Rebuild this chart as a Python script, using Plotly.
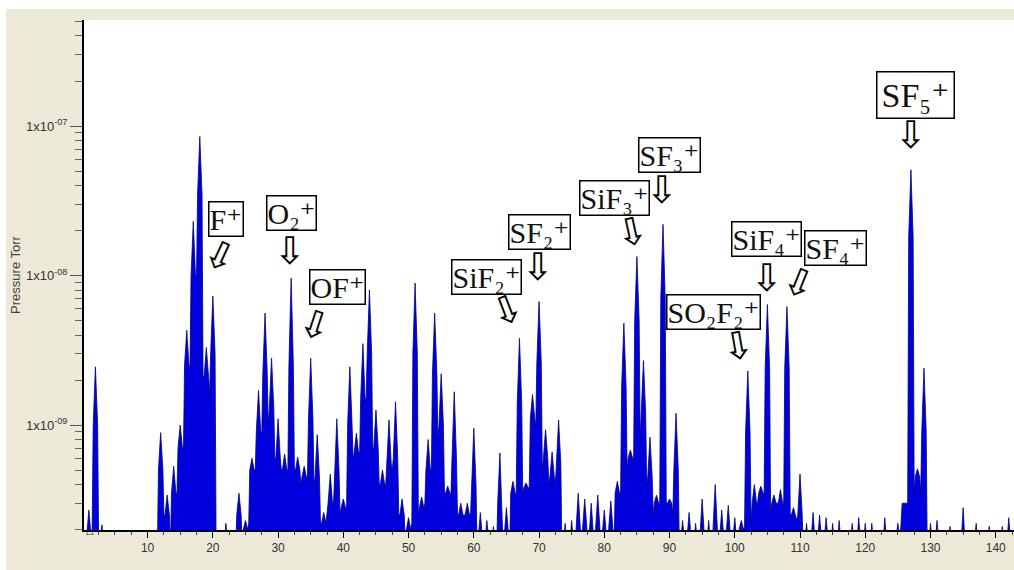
import plotly.graph_objects as go

# ---- data (mass in amu, pressure in Torr) ----
masses = list(range(1, 143))
# height at the mass centre
peak_torr = [
    2.7e-10, 2.45e-9, 2.15e-10, 1.5e-10, 1.5e-10, 1.5e-10, 1.5e-10, 1.5e-10, 1.5e-10, 1.5e-10,   # 1-10
    1.5e-10, 8.9e-10, 3.4e-10, 5.3e-10, 1.0e-9, 4.3e-9, 2.3e-8, 8.5e-8, 3.3e-9, 7.3e-9,          # 11-20
    1.5e-10, 2.2e-10, 1.5e-10, 3.5e-10, 2.3e-10, 6.0e-10, 1.7e-9, 5.6e-9, 2.8e-9, 1.1e-9,        # 21-30
    6.4e-10, 9.6e-9, 6.1e-10, 5.3e-10, 2.8e-9, 8.6e-10, 2.6e-10, 4.7e-10, 1.1e-9, 3.2e-10,       # 31-40
    2.45e-9, 8.8e-10, 3.5e-9, 8.0e-9, 1.26e-9, 5.0e-10, 1.08e-9, 1.43e-9, 3.2e-10, 2.4e-10,      # 41-50
    8.9e-9, 3.3e-10, 8.0e-10, 5.6e-9, 2.2e-9, 3.9e-10, 1.67e-9, 3.0e-10, 3.0e-10, 9.5e-10,       # 51-60
    2.6e-10, 2.3e-10, 2.1e-10, 6.5e-10, 2.8e-10, 4.2e-10, 3.8e-9, 4.1e-10, 1.6e-9, 6.7e-9,       # 61-70
    9.3e-10, 6.6e-10, 1.08e-9, 2.2e-10, 2.3e-10, 3.5e-10, 3.2e-10, 3.0e-10, 3.4e-10, 2.7e-10,    # 71-80
    3.1e-10, 4.2e-10, 4.8e-9, 6.8e-10, 1.34e-8, 2.7e-9, 8.3e-10, 3.4e-10, 2.2e-8, 3.2e-10,       # 81-90
    1.2e-9, 2.3e-10, 2.6e-10, 2.2e-10, 3.2e-10, 2.3e-10, 4.0e-10, 2.7e-10, 2.9e-10, 2.4e-10,     # 91-100
    2.3e-10, 2.3e-9, 4.0e-10, 3.9e-10, 6.4e-9, 3.4e-10, 3.7e-10, 6.2e-9, 2.8e-10, 4.7e-10,       # 101-110
    2.2e-10, 2.6e-10, 2.5e-10, 2.4e-10, 2.2e-10, 2.3e-10, 1.5e-10, 2.2e-10, 2.4e-10, 2.2e-10,    # 111-120
    2.2e-10, 1.5e-10, 2.4e-10, 1.5e-10, 2.2e-10, 3.0e-10, 5.1e-8, 5.1e-10, 2.4e-9, 2.2e-10,      # 121-130
    2.3e-10, 1.5e-10, 2.1e-10, 1.5e-10, 2.8e-10, 1.5e-10, 2.2e-10, 1.5e-10, 2.1e-10, 1.5e-10,    # 131-140
    2.1e-10, 2.4e-10,                                                                            # 141-142
]
# height of the peak flanks, a little either side of the centre
shoulder_torr = [
    1.8e-10, 1.0e-9, 1.5e-10, 1.5e-10, 1.5e-10, 1.5e-10, 1.5e-10, 1.5e-10, 1.5e-10, 1.5e-10,     # 1-10
    1.5e-10, 5.0e-10, 2.5e-10, 3.5e-10, 7.0e-10, 2.5e-9, 1.0e-8, 3.5e-8, 2.1e-9, 3.0e-9,         # 11-20
    1.5e-10, 1.5e-10, 1.5e-10, 2.5e-10, 2.0e-10, 5.0e-10, 9.0e-10, 2.2e-9, 1.3e-9, 6.0e-10,      # 21-30
    5.0e-10, 2.5e-9, 5.0e-10, 4.5e-10, 1.1e-9, 4.5e-10, 2.2e-10, 3.0e-10, 5.0e-10, 2.8e-10,      # 31-40
    1.0e-9, 6.5e-10, 1.5e-9, 3.0e-9, 7.0e-10, 4.0e-10, 5.5e-10, 6.0e-10, 2.5e-10, 2.0e-10,       # 41-50
    3.0e-9, 2.8e-10, 5.0e-10, 2.2e-9, 1.0e-9, 3.5e-10, 6.0e-10, 2.5e-10, 2.5e-10, 4.0e-10,       # 51-60
    1.7e-10, 1.6e-10, 1.5e-10, 3.0e-10, 1.8e-10, 3.5e-10, 1.4e-9, 3.8e-10, 1.1e-9, 2.6e-9,       # 61-70
    6.0e-10, 4.5e-10, 5.5e-10, 1.5e-10, 1.5e-10, 2.0e-10, 2.0e-10, 1.8e-10, 2.0e-10, 1.8e-10,    # 71-80
    2.0e-10, 3.5e-10, 1.8e-9, 6.0e-10, 5.0e-9, 1.2e-9, 4.5e-10, 3.0e-10, 7.0e-9, 3.0e-10,        # 81-90
    5.0e-10, 1.6e-10, 1.7e-10, 1.5e-10, 1.8e-10, 1.5e-10, 2.0e-10, 1.7e-10, 1.8e-10, 1.6e-10,    # 91-100
    2.0e-10, 9.0e-10, 3.0e-10, 3.5e-10, 2.4e-9, 3.0e-10, 3.0e-10, 2.4e-9, 2.5e-10, 2.5e-10,      # 101-110
    1.5e-10, 1.6e-10, 1.6e-10, 1.6e-10, 1.5e-10, 1.5e-10, 1.5e-10, 1.5e-10, 1.5e-10, 1.5e-10,    # 111-120
    1.5e-10, 1.5e-10, 1.5e-10, 1.5e-10, 1.7e-10, 3.0e-10, 1.8e-8, 4.5e-10, 9.0e-10, 1.5e-10,     # 121-130
    1.5e-10, 1.5e-10, 1.5e-10, 1.5e-10, 1.5e-10, 1.5e-10, 1.5e-10, 1.5e-10, 1.5e-10, 1.5e-10,    # 131-140
    1.5e-10, 1.5e-10,                                                                            # 141-142
]
# level between neighbouring masses, at 0.5, 1.5, ... 142.5
valley_pos = [m + 0.5 for m in range(0, 143)]
valley_torr = [
    1.5e-10, 2.0e-10, 1.5e-10, 1.5e-10, 1.5e-10, 1.5e-10, 1.5e-10, 1.5e-10, 1.5e-10, 1.5e-10,    # 0.5-9.5
    1.5e-10, 1.5e-10, 2.5e-10, 1.5e-10, 3.5e-10, 7.0e-10, 2.5e-9, 1.0e-8, 2.1e-9, 1.6e-9,        # 10.5-19.5
    1.5e-10, 1.5e-10, 1.5e-10, 1.5e-10, 1.5e-10, 2.2e-10, 5.0e-10, 9.0e-10, 1.0e-9, 6.0e-10,     # 20.5-29.5
    5.0e-10, 5.0e-10, 5.0e-10, 4.0e-10, 4.5e-10, 4.0e-10, 2.2e-10, 2.5e-10, 3.0e-10, 2.5e-10,    # 30.5-39.5
    2.8e-10, 6.0e-10, 6.5e-10, 1.5e-9, 7.0e-10, 4.0e-10, 4.0e-10, 5.0e-10, 2.5e-10, 1.5e-10,     # 40.5-49.5
    2.2e-10, 2.5e-10, 3.0e-10, 5.0e-10, 8.0e-10, 3.5e-10, 3.5e-10, 2.5e-10, 2.5e-10, 2.5e-10,    # 50.5-59.5
    1.5e-10, 1.5e-10, 1.5e-10, 1.5e-10, 1.5e-10, 1.5e-10, 3.5e-10, 3.5e-10, 3.8e-10, 1.0e-9,     # 60.5-69.5
    5.0e-10, 4.0e-10, 4.0e-10, 1.5e-10, 1.5e-10, 1.5e-10, 1.5e-10, 1.5e-10, 1.5e-10, 1.5e-10,    # 70.5-79.5
    1.5e-10, 1.5e-10, 3.5e-10, 5.0e-10, 6.0e-10, 8.0e-10, 4.0e-10, 2.5e-10, 3.0e-10, 3.0e-10,    # 80.5-89.5
    2.5e-10, 1.5e-10, 1.5e-10, 1.5e-10, 1.5e-10, 1.5e-10, 1.5e-10, 1.5e-10, 1.5e-10, 1.5e-10,    # 90.5-99.5
    1.5e-10, 2.1e-10, 2.2e-10, 3.0e-10, 3.5e-10, 2.5e-10, 3.0e-10, 3.0e-10, 2.5e-10, 2.3e-10,    # 100.5-109.5
    1.5e-10, 1.5e-10, 1.5e-10, 1.5e-10, 1.5e-10, 1.5e-10, 1.5e-10, 1.5e-10, 1.5e-10, 1.5e-10,    # 110.5-119.5
    1.5e-10, 1.5e-10, 1.5e-10, 1.5e-10, 1.5e-10, 2.1e-10, 3.0e-10, 3.5e-10, 3.5e-10, 1.5e-10,    # 120.5-129.5
    1.5e-10, 1.5e-10, 1.5e-10, 1.5e-10, 1.5e-10, 1.5e-10, 1.5e-10, 1.5e-10, 1.5e-10, 1.5e-10,    # 130.5-139.5
    1.5e-10, 1.5e-10, 1.5e-10,                                                                   # 140.5-142.5
]
flank_offset = 0.34  # amu, where the shoulder values sit

# ion labels (x in amu, y as log10 Torr) and their hollow arrows
label_text = ["F\u207a", "O\u2082\u207a", "OF\u207a", "SiF\u2082\u207a", "SF\u2082\u207a", "SiF\u2083\u207a",
              "SF\u2083\u207a", "SO\u2082F\u2082\u207a", "SiF\u2084\u207a", "SF\u2084\u207a", "SF\u2085\u207a"]
label_x = [21.94, 32.13, 39.18, 62.02, 70.07, 81.57, 90.07, 96.71, 104.89, 115.41, 127.67]
label_y = [-7.625, -7.585, -8.077, -8.007, -7.707, -7.484, -7.191, -8.244, -7.756, -7.813, -6.791]
arrow_x = [21.10, 31.83, 35.66, 65.09, 69.89, 84.20, 88.80, 100.42, 104.89, 109.85, 126.97]
arrow_y = [-7.870, -7.836, -8.331, -8.231, -7.941, -7.712, -7.428, -8.472, -8.019, -8.050, -7.058]
arrow_angle = [25, 0, 18, -21, 0, -12, 0, -10, 0, 22, 0]

y_tick_vals = [1e-9, 1e-8, 1e-7]
y_tick_text = ["1x10<sup>-09</sup>", "1x10<sup>-08</sup>", "1x10<sup>-07</sup>"]
y_minor_vals = [k * 10.0 ** e for e in (-10, -9, -8, -7) for k in range(2, 10)]

# ---- build the spectrum outline: valley, flank, peak, flank, valley ... ----
xs, ys = [], []
for i, m in enumerate(masses):
    xs += [valley_pos[i], m - flank_offset, m, m + flank_offset]
    ys += [valley_torr[i], shoulder_torr[i], peak_torr[i], shoulder_torr[i]]
xs.append(valley_pos[-1]); ys.append(valley_torr[-1])

fig = go.Figure()
fig.add_trace(go.Scatter(x=[0, 143], y=[1e-11, 1e-11], mode="lines",
                         line=dict(width=0, color="rgba(0,0,0,0)"), hoverinfo="skip"))
fig.add_trace(go.Scatter(x=xs, y=ys, mode="lines", fill="tonexty",
                         fillcolor="#0000DC",
                         line=dict(color="#000080", width=0.8),
                         hoverinfo="x+y"))

for t, x, y in zip(label_text, label_x, label_y):
    big = t.startswith("SF\u2085")
    fig.add_annotation(x=x, y=y, xref="x", yref="y", text=t, showarrow=False,
                       font=dict(family="Liberation Serif, DejaVu Serif, serif",
                                 size=34 if big else 30, color="#111"),
                       bgcolor="white", bordercolor="black", borderwidth=1.5,
                       borderpad=4 if big else 0)
for x, y, a in zip(arrow_x, arrow_y, arrow_angle):
    fig.add_annotation(x=x, y=y, xref="x", yref="y", text="\u21e9", showarrow=False,
                       textangle=a, font=dict(family="DejaVu Sans", size=38, color="black"))

fig.add_annotation(x=0, y=-0.016, xref="paper", yref="paper", text="\u25b3", showarrow=False,
                   font=dict(family="DejaVu Sans", size=10, color="#333"))

fig.add_shape(type="rect", xref="paper", yref="paper", x0=-0.0903, x1=1.0, y0=1.0216, y1=1.04,
              fillcolor="white", line=dict(width=0), layer="below")
fig.add_shape(type="rect", xref="paper", yref="paper", x0=-0.0903, x1=-0.0839, y0=-0.08, y1=1.04,
              fillcolor="white", line=dict(width=0), layer="below")

fig.update_layout(
    width=1014, height=570,
    margin=dict(l=84, r=0, t=20, b=40),
    paper_bgcolor="#ECE9D8", plot_bgcolor="white",
    showlegend=False,
    xaxis=dict(range=[0.25, 142.8], tickmode="linear", tick0=0, dtick=10,
               ticks="outside", ticklen=6, tickcolor="black", tickwidth=1,
               showline=True, linecolor="black", linewidth=1.5, showgrid=False, zeroline=False,
               tickfont=dict(family="Liberation Sans", size=12, color="#333"),
               minor=dict(dtick=2.5, tick0=0, ticks="outside", ticklen=3, tickcolor="#444", showgrid=False)),
    yaxis=dict(type="log", range=[-9.702, -6.291], tickmode="array",
               tickvals=y_tick_vals, ticktext=y_tick_text,
               ticks="outside", ticklen=12, tickcolor="#555", tickwidth=1,
               showline=True, linecolor="black", linewidth=2, showgrid=False, zeroline=False,
               tickfont=dict(family="Liberation Sans", size=13, color="#333"),
               title=dict(text="Pressure Torr", font=dict(family="Liberation Sans", size=13, color="#444"),
                          standoff=2),
               minor=dict(tickmode="array", tickvals=y_minor_vals, ticks="outside", ticklen=7,
                          tickcolor="#666", showgrid=False)),
)

fig.write_html("out.html")
